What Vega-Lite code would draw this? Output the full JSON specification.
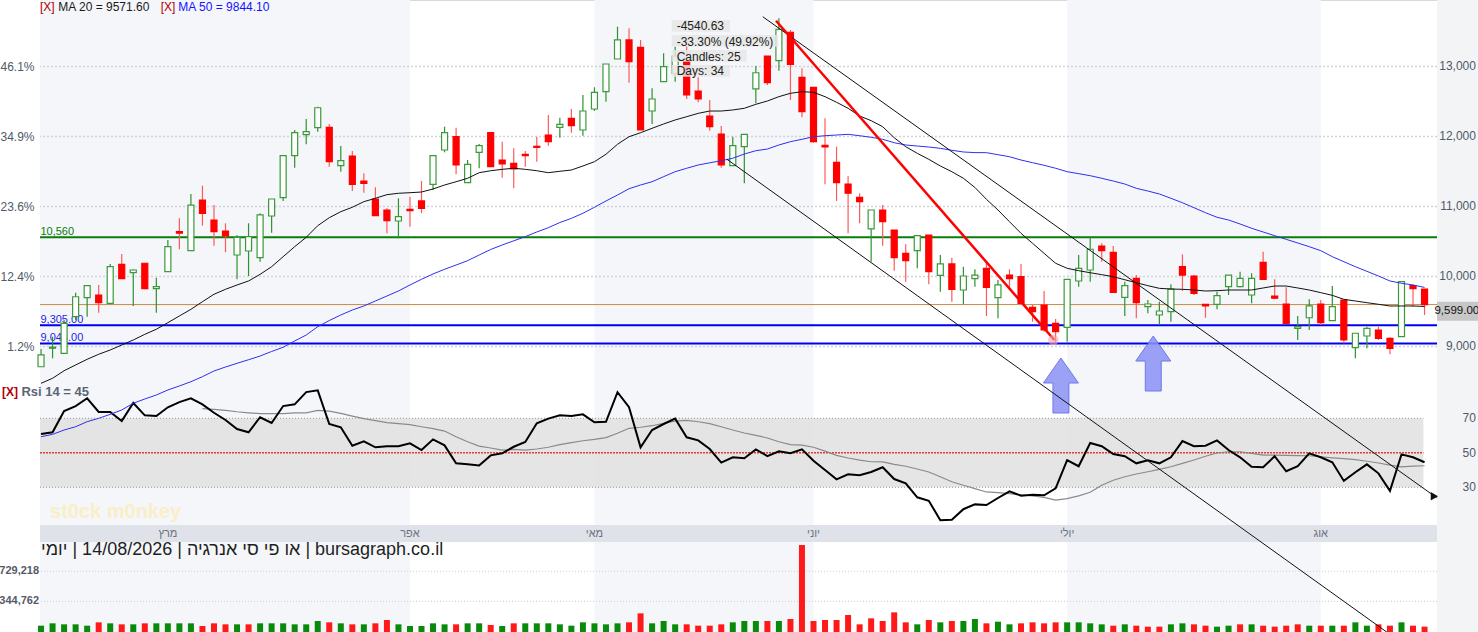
{
  "$schema": "https://vega.github.io/schema/vega-lite/v6.json",
  "width": 1397,
  "height": 632,
  "autosize": "none",
  "padding": {"left": 40, "right": 41, "top": 0, "bottom": 0},
  "background": "#ffffff",
  "config": {
    "font": "Liberation Sans",
    "view": {"stroke": "#d6dae0", "strokeWidth": 1},
    "axis": {"labelFont": "Liberation Sans"}
  },
  "datasets": {
    "bars": [
      {"i":0,"o":8711,"h":8964,"l":8711,"c":8879,"m20":8474,"m50":7711,"r":60.9,"s":null,"v":32400,"vd":"u"},
      {"i":1,"o":8975,"h":9140,"l":8831,"c":8990,"m20":8546,"m50":7745,"r":61.9,"s":null,"v":62400,"vd":"u"},
      {"i":2,"o":8903,"h":9379,"l":8903,"c":9331,"m20":8654,"m50":7807,"r":74.2,"s":null,"v":49600,"vd":"u"},
      {"i":3,"o":9426,"h":9769,"l":9379,"c":9711,"m20":8736,"m50":7854,"r":77.1,"s":null,"v":49600,"vd":"u"},
      {"i":4,"o":9697,"h":9869,"l":9426,"c":9869,"m20":8817,"m50":7926,"r":81.6,"s":null,"v":32400,"vd":"u"},
      {"i":5,"o":9736,"h":9879,"l":9483,"c":9626,"m20":8889,"m50":7974,"r":73.7,"s":null,"v":75200,"vd":"d"},
      {"i":6,"o":9617,"h":10179,"l":9603,"c":10140,"m20":8950,"m50":8031,"r":73.7,"s":null,"v":62400,"vd":"u"},
      {"i":7,"o":10174,"h":10321,"l":9969,"c":9969,"m20":9021,"m50":8093,"r":68.4,"s":null,"v":49600,"vd":"d"},
      {"i":8,"o":10054,"h":10103,"l":9579,"c":10093,"m20":9093,"m50":8189,"r":78.9,"s":null,"v":49600,"vd":"u"},
      {"i":9,"o":10189,"h":10189,"l":9817,"c":9826,"m20":9174,"m50":8250,"r":71.7,"s":null,"v":62400,"vd":"d"},
      {"i":10,"o":9826,"h":9983,"l":9483,"c":9854,"m20":9246,"m50":8307,"r":71.3,"s":null,"v":62400,"vd":"u"},
      {"i":11,"o":10069,"h":10521,"l":10069,"c":10426,"m20":9340,"m50":8379,"r":76.4,"s":null,"v":62400,"vd":"u"},
      {"i":12,"o":10640,"h":10831,"l":10389,"c":10620,"m20":9436,"m50":8436,"r":79.4,"s":null,"v":62400,"vd":"u"},
      {"i":13,"o":10369,"h":11179,"l":10369,"c":11021,"m20":9531,"m50":8497,"r":81.6,"s":null,"v":62400,"vd":"u"},
      {"i":14,"o":11093,"h":11297,"l":10726,"c":10903,"m20":9640,"m50":8569,"r":78.1,"s":75.6,"v":28200,"vd":"d"},
      {"i":15,"o":10807,"h":11021,"l":10440,"c":10640,"m20":9746,"m50":8650,"r":73.2,"s":75.2,"v":62400,"vd":"d"},
      {"i":16,"o":10650,"h":10760,"l":10346,"c":10579,"m20":9817,"m50":8707,"r":69.0,"s":74.6,"v":49600,"vd":"d"},
      {"i":17,"o":10307,"h":10589,"l":9960,"c":10560,"m20":9879,"m50":8760,"r":63.8,"s":73.8,"v":49600,"vd":"u"},
      {"i":18,"o":10364,"h":10760,"l":10007,"c":10569,"m20":9936,"m50":8811,"r":61.9,"s":73.2,"v":49600,"vd":"d"},
      {"i":19,"o":10269,"h":10903,"l":10211,"c":10879,"m20":10031,"m50":8864,"r":70.6,"s":72.7,"v":62400,"vd":"u"},
      {"i":20,"o":10864,"h":11107,"l":10626,"c":11107,"m20":10140,"m50":8929,"r":67.3,"s":72.7,"v":62400,"vd":"u"},
      {"i":21,"o":11126,"h":11726,"l":11079,"c":11726,"m20":10283,"m50":8989,"r":77.1,"s":72.7,"v":62400,"vd":"u"},
      {"i":22,"o":11726,"h":12093,"l":11554,"c":12054,"m20":10426,"m50":9079,"r":78.1,"s":73.1,"v":49600,"vd":"u"},
      {"i":23,"o":12026,"h":12250,"l":11889,"c":12069,"m20":10560,"m50":9164,"r":85.2,"s":73.2,"v":49600,"vd":"u"},
      {"i":24,"o":12126,"h":12426,"l":12069,"c":12411,"m20":10726,"m50":9283,"r":86.2,"s":74.6,"v":92300,"vd":"u"},
      {"i":25,"o":12131,"h":12179,"l":11569,"c":11640,"m20":10840,"m50":9371,"r":66.7,"s":74.2,"v":75200,"vd":"d"},
      {"i":26,"o":11583,"h":11864,"l":11497,"c":11654,"m20":10926,"m50":9450,"r":64.8,"s":72.9,"v":62400,"vd":"u"},
      {"i":27,"o":11721,"h":11793,"l":11221,"c":11317,"m20":10989,"m50":9521,"r":54.1,"s":71.3,"v":49600,"vd":"d"},
      {"i":28,"o":11364,"h":11474,"l":11197,"c":11331,"m20":11069,"m50":9579,"r":56.7,"s":69.8,"v":49600,"vd":"u"},
      {"i":29,"o":11107,"h":11274,"l":10869,"c":10869,"m20":11117,"m50":9650,"r":53.2,"s":68.6,"v":62400,"vd":"d"},
      {"i":30,"o":10950,"h":10974,"l":10617,"c":10797,"m20":11169,"m50":9721,"r":53.8,"s":67.5,"v":105000,"vd":"d"},
      {"i":31,"o":10793,"h":11117,"l":10546,"c":10854,"m20":11189,"m50":9793,"r":53.8,"s":66.9,"v":49600,"vd":"u"},
      {"i":32,"o":10960,"h":11140,"l":10711,"c":10940,"m20":11197,"m50":9879,"r":55.5,"s":66.3,"v":28200,"vd":"u"},
      {"i":33,"o":11079,"h":11364,"l":10903,"c":10974,"m20":11207,"m50":9960,"r":51.6,"s":65.1,"v":28200,"vd":"u"},
      {"i":34,"o":11317,"h":11726,"l":11236,"c":11726,"m20":11250,"m50":10036,"r":57.8,"s":64.0,"v":62400,"vd":"u"},
      {"i":35,"o":11807,"h":12140,"l":11774,"c":12054,"m20":11307,"m50":10103,"r":54.3,"s":62.6,"v":49600,"vd":"u"},
      {"i":36,"o":11997,"h":12126,"l":11460,"c":11593,"m20":11354,"m50":10164,"r":43.9,"s":59.3,"v":49600,"vd":"d"},
      {"i":37,"o":11340,"h":11664,"l":11340,"c":11603,"m20":11403,"m50":10226,"r":43.3,"s":56.4,"v":62400,"vd":"u"},
      {"i":38,"o":11774,"h":11893,"l":11546,"c":11869,"m20":11483,"m50":10307,"r":42.7,"s":53.9,"v":62400,"vd":"u"},
      {"i":39,"o":12054,"h":12054,"l":11569,"c":11569,"m20":11511,"m50":10386,"r":48.5,"s":52.8,"v":41000,"vd":"d"},
      {"i":40,"o":11664,"h":11926,"l":11411,"c":11607,"m20":11531,"m50":10450,"r":49.7,"s":51.6,"v":28200,"vd":"u"},
      {"i":41,"o":11617,"h":11831,"l":11260,"c":11536,"m20":11546,"m50":10510,"r":53.5,"s":52.0,"v":62400,"vd":"d"},
      {"i":42,"o":11746,"h":11793,"l":11569,"c":11726,"m20":11531,"m50":10569,"r":56.3,"s":51.6,"v":62400,"vd":"u"},
      {"i":43,"o":11860,"h":11997,"l":11640,"c":11845,"m20":11511,"m50":10636,"r":67.1,"s":52.2,"v":62400,"vd":"u"},
      {"i":44,"o":12021,"h":12307,"l":11869,"c":11926,"m20":11483,"m50":10697,"r":69.8,"s":53.2,"v":62400,"vd":"u"},
      {"i":45,"o":12131,"h":12269,"l":11983,"c":12174,"m20":11503,"m50":10771,"r":71.7,"s":54.7,"v":49600,"vd":"u"},
      {"i":46,"o":12260,"h":12393,"l":12054,"c":12154,"m20":11521,"m50":10831,"r":71.3,"s":55.9,"v":32400,"vd":"u"},
      {"i":47,"o":12093,"h":12593,"l":12011,"c":12364,"m20":11579,"m50":10903,"r":72.3,"s":57.0,"v":75200,"vd":"u"},
      {"i":48,"o":12393,"h":12703,"l":12364,"c":12631,"m20":11640,"m50":10989,"r":67.7,"s":57.8,"v":62400,"vd":"u"},
      {"i":49,"o":12640,"h":13036,"l":12497,"c":13036,"m20":11746,"m50":11079,"r":68.0,"s":58.8,"v":49600,"vd":"u"},
      {"i":50,"o":13107,"h":13569,"l":13107,"c":13379,"m20":11889,"m50":11164,"r":85.1,"s":61.3,"v":62400,"vd":"u"},
      {"i":51,"o":13379,"h":13545,"l":12769,"c":13069,"m20":11997,"m50":11254,"r":76.4,"s":64.2,"v":75200,"vd":"d"},
      {"i":52,"o":13274,"h":13379,"l":12093,"c":12093,"m20":12054,"m50":11307,"r":53.2,"s":64.8,"v":190500,"vd":"d"},
      {"i":53,"o":12364,"h":12689,"l":12179,"c":12536,"m20":12117,"m50":11354,"r":63.2,"s":65.7,"v":62400,"vd":"u"},
      {"i":54,"o":12783,"h":13189,"l":12783,"c":12997,"m20":12179,"m50":11426,"r":66.7,"s":67.1,"v":92300,"vd":"u"},
      {"i":55,"o":12900,"h":13283,"l":12783,"c":13150,"m20":12236,"m50":11497,"r":69.8,"s":68.4,"v":49600,"vd":"u"},
      {"i":56,"o":13069,"h":13300,"l":12536,"c":12593,"m20":12283,"m50":11546,"r":59.0,"s":68.8,"v":49600,"vd":"d"},
      {"i":57,"o":12650,"h":12846,"l":12489,"c":12536,"m20":12331,"m50":11593,"r":57.2,"s":68.0,"v":32400,"vd":"d"},
      {"i":58,"o":12293,"h":12521,"l":12083,"c":12140,"m20":12364,"m50":11624,"r":52.2,"s":66.9,"v":32400,"vd":"d"},
      {"i":59,"o":12036,"h":12150,"l":11554,"c":11593,"m20":12364,"m50":11654,"r":44.3,"s":65.1,"v":49600,"vd":"d"},
      {"i":60,"o":11583,"h":11997,"l":11583,"c":11869,"m20":12379,"m50":11689,"r":47.4,"s":63.2,"v":75200,"vd":"u"},
      {"i":61,"o":11854,"h":12031,"l":11331,"c":12031,"m20":12403,"m50":11750,"r":46.8,"s":61.5,"v":92300,"vd":"u"},
      {"i":62,"o":12679,"h":13007,"l":12474,"c":12911,"m20":12460,"m50":11797,"r":52.0,"s":60.1,"v":92300,"vd":"u"},
      {"i":63,"o":13150,"h":13150,"l":12736,"c":12769,"m20":12507,"m50":11821,"r":48.1,"s":58.6,"v":92300,"vd":"d"},
      {"i":64,"o":13083,"h":13689,"l":12940,"c":13531,"m20":12569,"m50":11879,"r":50.9,"s":56.4,"v":92300,"vd":"u"},
      {"i":65,"o":13489,"h":13521,"l":12521,"c":13031,"m20":12617,"m50":11926,"r":49.7,"s":54.7,"v":118000,"vd":"d"},
      {"i":66,"o":12846,"h":12974,"l":12274,"c":12354,"m20":12640,"m50":11960,"r":52.0,"s":54.5,"v":1066000,"vd":"d"},
      {"i":67,"o":12703,"h":12703,"l":11911,"c":11926,"m20":12631,"m50":11997,"r":45.4,"s":53.2,"v":92300,"vd":"d"},
      {"i":68,"o":11874,"h":12260,"l":11317,"c":11850,"m20":12569,"m50":12011,"r":40.0,"s":51.0,"v":105000,"vd":"d"},
      {"i":69,"o":11631,"h":11854,"l":11079,"c":11340,"m20":12489,"m50":12021,"r":34.6,"s":48.5,"v":105000,"vd":"d"},
      {"i":70,"o":11321,"h":11436,"l":10617,"c":11189,"m20":12403,"m50":12031,"r":37.5,"s":47.0,"v":169000,"vd":"d"},
      {"i":71,"o":11131,"h":11189,"l":10760,"c":11069,"m20":12293,"m50":12011,"r":37.0,"s":45.8,"v":49600,"vd":"d"},
      {"i":72,"o":10679,"h":10950,"l":10211,"c":10950,"m20":12226,"m50":11989,"r":38.9,"s":44.8,"v":126500,"vd":"d"},
      {"i":73,"o":10950,"h":11021,"l":10440,"c":10783,"m20":12140,"m50":11960,"r":41.6,"s":44.7,"v":92300,"vd":"d"},
      {"i":74,"o":10664,"h":10664,"l":10083,"c":10269,"m20":11983,"m50":11911,"r":34.8,"s":43.3,"v":203000,"vd":"d"},
      {"i":75,"o":10331,"h":10460,"l":9926,"c":10226,"m20":11854,"m50":11879,"r":32.3,"s":42.2,"v":75200,"vd":"d"},
      {"i":76,"o":10369,"h":10583,"l":10117,"c":10583,"m20":11760,"m50":11864,"r":24.2,"s":40.6,"v":49600,"vd":"u"},
      {"i":77,"o":10593,"h":10593,"l":9889,"c":10069,"m20":11674,"m50":11850,"r":22.2,"s":38.9,"v":105000,"vd":"d"},
      {"i":78,"o":10017,"h":10307,"l":9783,"c":10179,"m20":11579,"m50":11831,"r":10.9,"s":36.1,"v":75200,"vd":"u"},
      {"i":79,"o":10179,"h":10269,"l":9640,"c":9817,"m20":11497,"m50":11803,"r":11.2,"s":33.2,"v":92300,"vd":"d"},
      {"i":80,"o":9807,"h":10140,"l":9603,"c":10007,"m20":11403,"m50":11779,"r":17.3,"s":31.2,"v":92300,"vd":"u"},
      {"i":81,"o":9969,"h":10103,"l":9854,"c":10021,"m20":11272,"m50":11770,"r":20.1,"s":29.2,"v":118000,"vd":"u"},
      {"i":82,"o":10117,"h":10189,"l":9436,"c":9846,"m20":11103,"m50":11769,"r":19.7,"s":27.3,"v":62400,"vd":"d"},
      {"i":83,"o":9697,"h":9950,"l":9403,"c":9879,"m20":10950,"m50":11740,"r":23.8,"s":26.9,"v":83700,"vd":"u"},
      {"i":84,"o":10021,"h":10103,"l":9807,"c":9969,"m20":10783,"m50":11711,"r":27.7,"s":26.3,"v":49600,"vd":"u"},
      {"i":85,"o":9997,"h":10179,"l":9617,"c":9617,"m20":10617,"m50":11664,"r":25.1,"s":25.6,"v":62400,"vd":"d"},
      {"i":86,"o":9560,"h":9593,"l":9354,"c":9497,"m20":10474,"m50":11626,"r":25.7,"s":25.0,"v":75200,"vd":"d"},
      {"i":87,"o":9593,"h":9793,"l":9211,"c":9236,"m20":10331,"m50":11589,"r":25.4,"s":24.2,"v":62400,"vd":"d"},
      {"i":88,"o":9331,"h":9393,"l":9046,"c":9211,"m20":10189,"m50":11546,"r":29.4,"s":22.6,"v":75200,"vd":"d"},
      {"i":89,"o":9274,"h":9960,"l":9069,"c":9960,"m20":10117,"m50":11497,"r":45.8,"s":23.4,"v":75200,"vd":"u"},
      {"i":90,"o":9936,"h":10307,"l":9854,"c":10117,"m20":10083,"m50":11469,"r":42.2,"s":25.0,"v":75200,"vd":"u"},
      {"i":91,"o":10093,"h":10560,"l":9926,"c":10389,"m20":10054,"m50":11440,"r":55.7,"s":27.1,"v":62400,"vd":"u"},
      {"i":92,"o":10436,"h":10474,"l":10211,"c":10369,"m20":10026,"m50":11403,"r":53.8,"s":31.2,"v":49600,"vd":"u"},
      {"i":93,"o":10346,"h":10436,"l":9774,"c":9774,"m20":9997,"m50":11364,"r":49.3,"s":34.1,"v":32400,"vd":"d"},
      {"i":94,"o":9703,"h":9926,"l":9436,"c":9869,"m20":9954,"m50":11321,"r":48.0,"s":36.1,"v":49600,"vd":"u"},
      {"i":95,"o":9974,"h":10021,"l":9403,"c":9626,"m20":9911,"m50":11260,"r":43.9,"s":37.7,"v":32400,"vd":"d"},
      {"i":96,"o":9569,"h":9664,"l":9474,"c":9607,"m20":9869,"m50":11221,"r":45.7,"s":39.0,"v":19600,"vd":"d"},
      {"i":97,"o":9450,"h":9640,"l":9307,"c":9507,"m20":9831,"m50":11179,"r":43.9,"s":40.4,"v":19600,"vd":"d"},
      {"i":98,"o":9497,"h":9889,"l":9354,"c":9821,"m20":9821,"m50":11117,"r":47.4,"s":41.9,"v":49600,"vd":"u"},
      {"i":99,"o":10140,"h":10317,"l":9793,"c":10021,"m20":9817,"m50":11054,"r":56.8,"s":43.9,"v":62400,"vd":"u"},
      {"i":100,"o":10007,"h":10021,"l":9736,"c":9760,"m20":9807,"m50":10983,"r":53.8,"s":45.8,"v":49600,"vd":"d"},
      {"i":101,"o":9603,"h":9603,"l":9411,"c":9579,"m20":9793,"m50":10911,"r":54.1,"s":48.0,"v":32400,"vd":"d"},
      {"i":102,"o":9603,"h":9783,"l":9531,"c":9726,"m20":9797,"m50":10846,"r":57.2,"s":49.9,"v":19600,"vd":"u"},
      {"i":103,"o":9854,"h":10021,"l":9736,"c":10021,"m20":9807,"m50":10807,"r":51.6,"s":50.6,"v":32400,"vd":"u"},
      {"i":104,"o":9854,"h":10069,"l":9846,"c":9974,"m20":9807,"m50":10750,"r":47.4,"s":50.6,"v":49600,"vd":"d"},
      {"i":105,"o":9736,"h":10046,"l":9617,"c":9974,"m20":9807,"m50":10689,"r":41.9,"s":49.7,"v":49600,"vd":"u"},
      {"i":106,"o":10203,"h":10354,"l":9960,"c":9960,"m20":9836,"m50":10636,"r":41.6,"s":48.7,"v":32400,"vd":"d"},
      {"i":107,"o":9721,"h":9960,"l":9674,"c":9689,"m20":9864,"m50":10583,"r":48.0,"s":48.6,"v":19600,"vd":"d"},
      {"i":108,"o":9607,"h":9846,"l":9331,"c":9331,"m20":9864,"m50":10531,"r":39.3,"s":48.5,"v":32400,"vd":"d"},
      {"i":109,"o":9260,"h":9436,"l":9093,"c":9283,"m20":9836,"m50":10479,"r":42.2,"s":48.4,"v":49600,"vd":"d"},
      {"i":110,"o":9411,"h":9674,"l":9236,"c":9579,"m20":9807,"m50":10426,"r":49.7,"s":48.3,"v":32400,"vd":"u"},
      {"i":111,"o":9607,"h":9664,"l":9307,"c":9340,"m20":9769,"m50":10369,"r":47.4,"s":47.7,"v":32400,"vd":"d"},
      {"i":112,"o":9369,"h":9864,"l":9369,"c":9569,"m20":9731,"m50":10283,"r":44.5,"s":47.1,"v":32400,"vd":"u"},
      {"i":113,"o":9664,"h":9664,"l":9046,"c":9093,"m20":9674,"m50":10211,"r":33.7,"s":46.6,"v":32400,"vd":"d"},
      {"i":114,"o":8983,"h":9189,"l":8831,"c":9189,"m20":9650,"m50":10140,"r":38.7,"s":46.0,"v":75200,"vd":"u"},
      {"i":115,"o":9150,"h":9283,"l":8974,"c":9260,"m20":9626,"m50":10074,"r":43.3,"s":45.1,"v":32400,"vd":"u"},
      {"i":116,"o":9236,"h":9283,"l":9093,"c":9117,"m20":9603,"m50":10007,"r":38.1,"s":44.1,"v":49600,"vd":"d"},
      {"i":117,"o":9117,"h":9131,"l":8889,"c":8974,"m20":9579,"m50":9936,"r":27.9,"s":42.9,"v":32400,"vd":"d"},
      {"i":118,"o":9140,"h":9936,"l":9140,"c":9926,"m20":9579,"m50":9903,"r":49.1,"s":41.8,"v":75200,"vd":"u"},
      {"i":119,"o":9869,"h":9889,"l":9569,"c":9826,"m20":9579,"m50":9879,"r":47.4,"s":42.3,"v":32400,"vd":"d"},
      {"i":120,"o":9821,"h":9821,"l":9450,"c":9599,"m20":9572,"m50":9844,"r":44.5,"s":42.5,"v":19600,"vd":"d"}
    ],
    "shade": [{"i":-0.09,"i2":32},{"i":48,"i2":67},{"i":89,"i2":111}],
    "months": [{"i":11,"t":"מרץ"},{"i":32,"t":"אפר"},{"i":48,"t":"מאי"},{"i":67,"t":"יוני"},{"i":89,"t":"יולי"},{"i":111,"t":"אוג"}],
    "grid": [{"g":9000},{"g":10000},{"g":11000},{"g":12000},{"g":13000}],
    "levels": [{"lvl":10560,"lab":"10,560","k":"g"},{"lvl":9305,"lab":"9,305.00","k":"b"},{"lvl":9044,"lab":"9,044.00","k":"b"}],
    "trends": [{"t":"a","i":62.6,"p":13711},{"t":"a","i":121.05,"p":6840},{"t":"b","i":59.5,"p":11674},{"t":"b","i":117.2,"p":4864}],
    "redline": [{"i":63.75,"p":13654},{"i":87.89,"p":9093}],
    "arrows": [{"i":88.46,"p":8443},{"i":96.47,"p":8757}],
    "boxes": [{"i":54.7,"i2":59.76,"p":13664,"p2":13497},{"i":54.7,"i2":63.95,"p":13450,"p2":13283},{"i":54.7,"i2":61.2,"p":13236,"p2":13069},{"i":54.7,"i2":59.76,"p":13021,"p2":12854}],
    "notes": [{"t":"-4540.63","p":13579},{"t":"-33.30% (49.92%)","p":13354},{"t":"Candles: 25","p":13140},{"t":"Days: 34","p":12936}],
    "legend": [{"i":-0.087,"t":"[X]","k":"x"},{"i":1.5,"t":"MA 20 = 9571.60","k":"m20"},{"i":10.38,"t":"[X]","k":"x"},{"i":11.91,"t":"MA 50 = 9844.10","k":"m50"}]
  },
  "resolve": {"scale": {"y": "independent"}, "axis": {"y": "independent"}},
  "layer": [
    {
      "layer": [
        {
          "data": {"name": "shade"},
          "mark": {"type": "rect", "color": "#f4f6f9"},
          "encoding": {
            "x": {"field": "i", "type": "quantitative", "scale": {"domain": [-0.09, 121.08], "nice": false, "zero": false, "padding": 0}, "axis": null},
            "x2": {"field": "i2"}
          }
        },
        {
          "data": {"values": [{}]},
          "mark": {"type": "rect", "color": "#f3f4f6"},
          "encoding": {
            "x": {"datum": 121.08, "type": "quantitative", "scale": {"domain": [-0.09, 121.08], "nice": false, "zero": false, "padding": 0}, "axis": null},
            "x2": {"datum": 124.8}
          }
        },
        {
          "data": {"name": "grid"},
          "mark": {"type": "rule", "color": "#cfd4db", "strokeWidth": 1.5, "strokeDash": [2, 2]},
          "encoding": {
            "y": {"field": "g", "type": "quantitative", "scale": {"domain": [4921.4, 13950], "nice": false, "zero": false}, "axis": null}
          }
        },
        {
          "data": {"name": "grid"},
          "mark": {"type": "text", "align": "right", "baseline": "middle", "fontSize": 12, "color": "#4f5a69"},
          "encoding": {
            "x": {"datum": 124.46, "type": "quantitative", "scale": {"domain": [-0.09, 121.08], "nice": false, "zero": false, "padding": 0}, "axis": null},
            "y": {"field": "g", "type": "quantitative", "scale": {"domain": [4921.4, 13950], "nice": false, "zero": false}, "axis": null},
            "text": {"field": "g", "type": "quantitative", "format": ",d"}
          }
        },
        {
          "data": {"values": [{}]},
          "mark": {"type": "rect", "color": "#dfe3e9"},
          "encoding": {
            "y": {"datum": 6450, "type": "quantitative", "scale": {"domain": [4921.4, 13950], "nice": false, "zero": false}, "axis": null},
            "y2": {"datum": 6207}
          }
        },
        {
          "data": {"name": "months"},
          "mark": {"type": "text", "align": "center", "baseline": "middle", "fontSize": 11, "color": "#6b7280"},
          "encoding": {
            "x": {"field": "i", "type": "quantitative", "scale": {"domain": [-0.09, 121.08], "nice": false, "zero": false, "padding": 0}, "axis": null},
            "y": {"datum": 6321, "type": "quantitative", "scale": {"domain": [4921.4, 13950], "nice": false, "zero": false}, "axis": null},
            "text": {"field": "t"}
          }
        },
        {
          "data": {"values": [{"t": "יומי\u200e | 14/08/2026 | או פי סי אנרגיה | bursagraph.co.il"}]},
          "mark": {"type": "text", "align": "left", "baseline": "middle", "fontSize": 18, "color": "#1f1f1f"},
          "encoding": {
            "x": {"datum": 0, "type": "quantitative", "scale": {"domain": [-0.09, 121.08], "nice": false, "zero": false, "padding": 0}, "axis": null},
            "y": {"datum": 6093, "type": "quantitative", "scale": {"domain": [4921.4, 13950], "nice": false, "zero": false}, "axis": null},
            "text": {"field": "t"}
          }
        },
        {
          "data": {"values": [{"t": "st0ck m0nkey"}]},
          "mark": {"type": "text", "align": "left", "baseline": "middle", "fontSize": 20, "fontWeight": "bold", "color": "#faeec8"},
          "encoding": {
            "x": {"datum": 0.78, "type": "quantitative", "scale": {"domain": [-0.09, 121.08], "nice": false, "zero": false, "padding": 0}, "axis": null},
            "y": {"datum": 6636, "type": "quantitative", "scale": {"domain": [4921.4, 13950], "nice": false, "zero": false}, "axis": null},
            "text": {"field": "t"}
          }
        },
        {
          "data": {"values": [{"t": "[X]"}]},
          "mark": {"type": "text", "align": "left", "baseline": "middle", "fontSize": 12, "fontWeight": "bold", "color": "#b00000"},
          "encoding": {
            "x": {"datum": -3.38, "type": "quantitative", "scale": {"domain": [-0.09, 121.08], "nice": false, "zero": false, "padding": 0}, "axis": null},
            "y": {"datum": 8346, "type": "quantitative", "scale": {"domain": [4921.4, 13950], "nice": false, "zero": false}, "axis": null},
            "text": {"field": "t"}
          }
        },
        {
          "data": {"values": [{"t": "Rsi 14 = 45"}]},
          "mark": {"type": "text", "align": "left", "baseline": "middle", "fontSize": 13, "fontWeight": "bold", "color": "#5a6574"},
          "encoding": {
            "x": {"datum": -1.7, "type": "quantitative", "scale": {"domain": [-0.09, 121.08], "nice": false, "zero": false, "padding": 0}, "axis": null},
            "y": {"datum": 8346, "type": "quantitative", "scale": {"domain": [4921.4, 13950], "nice": false, "zero": false}, "axis": null},
            "text": {"field": "t"}
          }
        }
      ]
    },
    {
      "layer": [
        {
          "data": {"values": [{}]},
          "mark": {"type": "rect", "color": "#e0e0e0", "opacity": 0.85},
          "encoding": {
            "x": {"datum": -0.09, "type": "quantitative", "scale": {"domain": [-0.09, 121.08], "nice": false, "zero": false, "padding": 0}, "axis": null},
            "x2": {"datum": 119.9},
            "y": {"datum": 30, "type": "quantitative", "scale": {"domain": [0, 100], "range": [539.05, 366.55], "nice": false, "zero": false}, "axis": null},
            "y2": {"datum": 70}
          }
        },
        {
          "data": {"values": [{"lv": 30}, {"lv": 70}]},
          "mark": {"type": "rule", "color": "#9a9a9a", "strokeWidth": 1, "strokeDash": [1, 2]},
          "encoding": {
            "x": {"datum": -0.09, "type": "quantitative", "scale": {"domain": [-0.09, 121.08], "nice": false, "zero": false, "padding": 0}, "axis": null},
            "x2": {"datum": 119.9},
            "y": {"field": "lv", "type": "quantitative", "scale": {"domain": [0, 100], "range": [539.05, 366.55], "nice": false, "zero": false}, "axis": null}
          }
        },
        {
          "data": {"values": [{}]},
          "mark": {"type": "rule", "color": "#e53935", "strokeWidth": 1.5, "strokeDash": [2, 1]},
          "encoding": {
            "x": {"datum": -0.09, "type": "quantitative", "scale": {"domain": [-0.09, 121.08], "nice": false, "zero": false, "padding": 0}, "axis": null},
            "x2": {"datum": 119.9},
            "y": {"datum": 50, "type": "quantitative", "scale": {"domain": [0, 100], "range": [539.05, 366.55], "nice": false, "zero": false}, "axis": null}
          }
        },
        {
          "data": {"name": "bars"},
          "mark": {"type": "line", "color": "#8a8a8a", "strokeWidth": 1.2},
          "encoding": {
            "x": {"field": "i", "type": "quantitative", "scale": {"domain": [-0.09, 121.08], "nice": false, "zero": false, "padding": 0}, "axis": null},
            "y": {"field": "s", "type": "quantitative", "scale": {"domain": [0, 100], "range": [539.05, 366.55], "nice": false, "zero": false}, "axis": null}
          }
        },
        {
          "data": {"name": "bars"},
          "mark": {"type": "line", "color": "#000000", "strokeWidth": 2},
          "encoding": {
            "x": {"field": "i", "type": "quantitative", "scale": {"domain": [-0.09, 121.08], "nice": false, "zero": false, "padding": 0}, "axis": null},
            "y": {"field": "r", "type": "quantitative", "scale": {"domain": [0, 100], "range": [539.05, 366.55], "nice": false, "zero": false}, "axis": null}
          }
        },
        {
          "data": {"values": [{"lv": 30}, {"lv": 50}, {"lv": 70}]},
          "mark": {"type": "text", "align": "right", "baseline": "middle", "fontSize": 12, "color": "#4f5a69"},
          "encoding": {
            "x": {"datum": 124.46, "type": "quantitative", "scale": {"domain": [-0.09, 121.08], "nice": false, "zero": false, "padding": 0}, "axis": null},
            "y": {"field": "lv", "type": "quantitative", "scale": {"domain": [0, 100], "range": [539.05, 366.55], "nice": false, "zero": false}, "axis": null},
            "text": {"field": "lv", "type": "quantitative", "format": "d"}
          }
        }
      ]
    },
    {
      "layer": [
        {
          "data": {"values": [{"gv": 344762}, {"gv": 729218}]},
          "mark": {"type": "rule", "color": "#d3d7dd", "strokeWidth": 1.2, "strokeDash": [1, 2]},
          "encoding": {
            "y": {"field": "gv", "type": "quantitative", "scale": {"domain": [-48700, 1100000], "range": [632, 542.37], "nice": false, "zero": false}, "axis": null}
          }
        },
        {
          "data": {"values": [{"gv": 344762}, {"gv": 729218}]},
          "mark": {"type": "text", "align": "right", "baseline": "middle", "fontSize": 11, "fontWeight": "bold", "color": "#555b66"},
          "encoding": {
            "x": {"datum": -0.17, "type": "quantitative", "scale": {"domain": [-0.09, 121.08], "nice": false, "zero": false, "padding": 0}, "axis": null},
            "y": {"field": "gv", "type": "quantitative", "scale": {"domain": [-48700, 1100000], "range": [632, 542.37], "nice": false, "zero": false}, "axis": null},
            "text": {"field": "gv", "type": "quantitative", "format": ",d"}
          }
        },
        {
          "data": {"name": "bars"},
          "mark": {"type": "bar", "width": 6},
          "encoding": {
            "x": {"field": "i", "type": "quantitative", "scale": {"domain": [-0.09, 121.08], "nice": false, "zero": false, "padding": 0}, "axis": null},
            "y": {"field": "v", "type": "quantitative", "scale": {"domain": [-48700, 1100000], "range": [632, 542.37], "nice": false, "zero": false}, "axis": null},
            "y2": {"datum": -48700},
            "color": {"condition": {"test": "datum.vd == 'u'", "value": "#0a8a0a"}, "value": "#ff1a1a"}
          }
        }
      ]
    },
    {
      "resolve": {"scale": {"y": "shared"}, "axis": {"y": "independent"}},
      "layer": [
        {
          "data": {"name": "levels"},
          "mark": {"type": "rule", "strokeWidth": 2},
          "encoding": {
            "y": {"field": "lvl", "type": "quantitative", "scale": {"domain": [4921.4, 13950], "nice": false, "zero": false}, "axis": null},
            "color": {"condition": {"test": "datum.k == 'g'", "value": "#0a7d0a"}, "value": "#0000f0"}
          }
        },
        {
          "data": {"values": [{}]},
          "mark": {"type": "rule", "strokeWidth": 1, "color": "#c98a45"},
          "encoding": {
            "y": {"datum": 9599, "type": "quantitative", "scale": {"domain": [4921.4, 13950], "nice": false, "zero": false}, "axis": null}
          }
        },
        {
          "data": {"name": "levels"},
          "mark": {"type": "text", "align": "left", "baseline": "bottom", "fontSize": 11},
          "encoding": {
            "x": {"datum": -0.05, "type": "quantitative", "scale": {"domain": [-0.09, 121.08], "nice": false, "zero": false, "padding": 0}, "axis": null},
            "y": {"field": "lvl", "type": "quantitative", "scale": {"domain": [4921.4, 13950], "nice": false, "zero": false}, "axis": null},
            "text": {"field": "lab"},
            "color": {"condition": {"test": "datum.k == 'g'", "value": "#0a7d0a"}, "value": "#1f1fe8"}
          }
        },
        {
          "data": {"name": "bars"},
          "mark": {"type": "rule", "strokeWidth": 1.2},
          "encoding": {
            "x": {"field": "i", "type": "quantitative", "scale": {"domain": [-0.09, 121.08], "nice": false, "zero": false, "padding": 0}, "axis": null},
            "y": {"field": "l", "type": "quantitative", "scale": {"domain": [4921.4, 13950], "nice": false, "zero": false}, "axis": null},
            "y2": {"field": "h"},
            "color": {"condition": {"test": "datum.c >= datum.o", "value": "#2e922e"}, "value": "#ff5a5a"}
          }
        },
        {
          "data": {"name": "bars"},
          "mark": {"type": "bar", "width": 6, "strokeWidth": 1.2},
          "encoding": {
            "x": {"field": "i", "type": "quantitative", "scale": {"domain": [-0.09, 121.08], "nice": false, "zero": false, "padding": 0}, "axis": null},
            "y": {"field": "o", "type": "quantitative", "scale": {"domain": [4921.4, 13950], "nice": false, "zero": false}, "axis": null},
            "y2": {"field": "c"},
            "fill": {"condition": {"test": "datum.c >= datum.o", "value": "#ffffff"}, "value": "#ff0000"},
            "stroke": {"condition": {"test": "datum.c >= datum.o", "value": "#3a9a3a"}, "value": "#ff0000"}
          }
        },
        {
          "data": {"name": "bars"},
          "mark": {"type": "line", "color": "#2f2ff0", "strokeWidth": 1},
          "encoding": {
            "x": {"field": "i", "type": "quantitative", "scale": {"domain": [-0.09, 121.08], "nice": false, "zero": false, "padding": 0}, "axis": null},
            "y": {"field": "m50", "type": "quantitative", "scale": {"domain": [4921.4, 13950], "nice": false, "zero": false}, "axis": null}
          }
        },
        {
          "data": {"name": "bars"},
          "mark": {"type": "line", "color": "#111111", "strokeWidth": 1},
          "encoding": {
            "x": {"field": "i", "type": "quantitative", "scale": {"domain": [-0.09, 121.08], "nice": false, "zero": false, "padding": 0}, "axis": null},
            "y": {
              "field": "m20", "type": "quantitative",
              "scale": {"domain": [4921.4, 13950], "nice": false, "zero": false},
              "axis": {"orient": "left", "values": [9000, 10000, 11000, 12000, 13000], "labelExpr": "datum.value == 9000 ? '1.2%' : datum.value == 10000 ? '12.4%' : datum.value == 11000 ? '23.6%' : datum.value == 12000 ? '34.9%' : '46.1%'", "grid": false, "domain": false, "ticks": false, "labelPadding": 6, "labelFontSize": 12, "labelColor": "#4f5a69", "title": null}
            }
          }
        },
        {
          "data": {"name": "arrows"},
          "mark": {"type": "point", "shape": "M0,-1L0.636,-0.09L0.29,-0.09L0.29,1L-0.29,1L-0.29,-0.09L-0.636,-0.09Z", "size": 3025, "filled": true, "fill": "#8a92f5", "opacity": 0.85, "stroke": "#5a62e8", "strokeWidth": 1},
          "encoding": {
            "x": {"field": "i", "type": "quantitative", "scale": {"domain": [-0.09, 121.08], "nice": false, "zero": false, "padding": 0}, "axis": null},
            "y": {"field": "p", "type": "quantitative", "scale": {"domain": [4921.4, 13950], "nice": false, "zero": false}, "axis": null}
          }
        },
        {
          "data": {"name": "trends"},
          "mark": {"type": "line", "color": "#111111", "strokeWidth": 1, "clip": true},
          "encoding": {
            "x": {"field": "i", "type": "quantitative", "scale": {"domain": [-0.09, 121.08], "nice": false, "zero": false, "padding": 0}, "axis": null},
            "y": {"field": "p", "type": "quantitative", "scale": {"domain": [4921.4, 13950], "nice": false, "zero": false}, "axis": null},
            "detail": {"field": "t"}
          }
        },
        {
          "data": {"values": [{}]},
          "mark": {"type": "point", "shape": "triangle-right", "size": 70, "filled": true, "color": "#111111", "opacity": 1},
          "encoding": {
            "x": {"datum": 120.85, "type": "quantitative", "scale": {"domain": [-0.09, 121.08], "nice": false, "zero": false, "padding": 0}, "axis": null},
            "y": {"datum": 6860, "type": "quantitative", "scale": {"domain": [4921.4, 13950], "nice": false, "zero": false}, "axis": null}
          }
        },
        {
          "data": {"name": "redline"},
          "mark": {"type": "line", "color": "#ff0000", "strokeWidth": 2.5},
          "encoding": {
            "x": {"field": "i", "type": "quantitative", "scale": {"domain": [-0.09, 121.08], "nice": false, "zero": false, "padding": 0}, "axis": null},
            "y": {"field": "p", "type": "quantitative", "scale": {"domain": [4921.4, 13950], "nice": false, "zero": false}, "axis": null}
          }
        },
        {
          "data": {"values": [{}]},
          "mark": {"type": "point", "shape": "circle", "size": 110, "filled": true, "color": "#f4a3ad", "opacity": 0.6},
          "encoding": {
            "x": {"datum": 87.8, "type": "quantitative", "scale": {"domain": [-0.09, 121.08], "nice": false, "zero": false, "padding": 0}, "axis": null},
            "y": {"datum": 9093, "type": "quantitative", "scale": {"domain": [4921.4, 13950], "nice": false, "zero": false}, "axis": null}
          }
        },
        {
          "data": {"name": "boxes"},
          "mark": {"type": "rect", "color": "#e6e6e6", "opacity": 0.85},
          "encoding": {
            "x": {"field": "i", "type": "quantitative", "scale": {"domain": [-0.09, 121.08], "nice": false, "zero": false, "padding": 0}, "axis": null},
            "x2": {"field": "i2"},
            "y": {"field": "p", "type": "quantitative", "scale": {"domain": [4921.4, 13950], "nice": false, "zero": false}, "axis": null},
            "y2": {"field": "p2"}
          }
        },
        {
          "data": {"name": "notes"},
          "mark": {"type": "text", "align": "left", "baseline": "middle", "fontSize": 12, "color": "#222222"},
          "encoding": {
            "x": {"datum": 55.13, "type": "quantitative", "scale": {"domain": [-0.09, 121.08], "nice": false, "zero": false, "padding": 0}, "axis": null},
            "y": {"field": "p", "type": "quantitative", "scale": {"domain": [4921.4, 13950], "nice": false, "zero": false}, "axis": null},
            "text": {"field": "t"}
          }
        },
        {
          "data": {"name": "legend"},
          "mark": {"type": "text", "align": "left", "baseline": "middle", "fontSize": 12},
          "encoding": {
            "x": {"field": "i", "type": "quantitative", "scale": {"domain": [-0.09, 121.08], "nice": false, "zero": false, "padding": 0}, "axis": null},
            "y": {"datum": 13850, "type": "quantitative", "scale": {"domain": [4921.4, 13950], "nice": false, "zero": false}, "axis": null},
            "text": {"field": "t"},
            "color": {"condition": [{"test": "datum.k == 'x'", "value": "#b00000"}, {"test": "datum.k == 'm50'", "value": "#1414ff"}], "value": "#1a1a1a"}
          }
        },
        {
          "data": {"values": [{}]},
          "mark": {"type": "rect", "color": "#c7c7c7"},
          "encoding": {
            "x": {"datum": 121.08, "type": "quantitative", "scale": {"domain": [-0.09, 121.08], "nice": false, "zero": false, "padding": 0}, "axis": null},
            "x2": {"datum": 124.7},
            "y": {"datum": 9640, "type": "quantitative", "scale": {"domain": [4921.4, 13950], "nice": false, "zero": false}, "axis": null},
            "y2": {"datum": 9369}
          }
        },
        {
          "data": {"values": [{"t": "9,599.00"}]},
          "mark": {"type": "text", "align": "center", "baseline": "middle", "fontSize": 11.5, "color": "#111111"},
          "encoding": {
            "x": {"datum": 122.8, "type": "quantitative", "scale": {"domain": [-0.09, 121.08], "nice": false, "zero": false, "padding": 0}, "axis": null},
            "y": {"datum": 9507, "type": "quantitative", "scale": {"domain": [4921.4, 13950], "nice": false, "zero": false}, "axis": null},
            "text": {"field": "t"}
          }
        }
      ]
    }
  ]
}
